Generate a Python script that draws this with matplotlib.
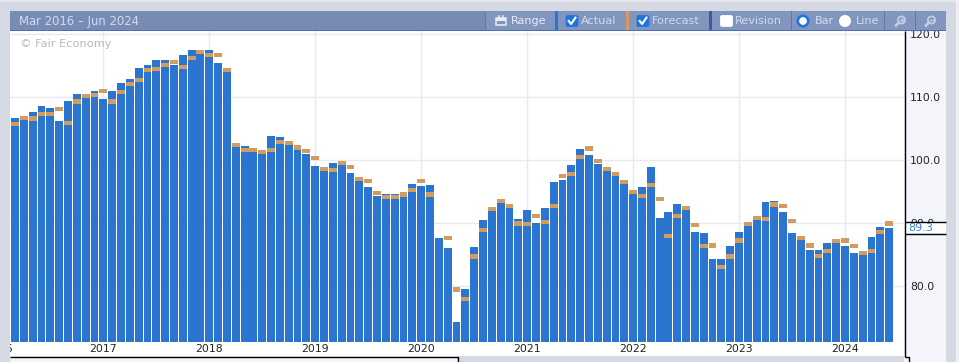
import matplotlib
matplotlib.use("Agg")
import matplotlib.pyplot as plt
import numpy as np
from matplotlib.patches import Circle, FancyBboxPatch, Rectangle

# Mar 2016 - Jun 2024, monthly
actual = [
    106.7, 106.4, 107.7, 108.6, 108.3, 106.2, 109.4, 110.5, 109.9, 111.0,
    109.7, 111.0, 112.3, 112.9, 114.6, 115.1, 115.9, 115.9, 115.1, 116.7,
    117.5, 116.9, 117.5, 115.4, 114.0, 102.1, 102.3, 101.3, 101.0, 103.9,
    103.7, 102.4, 101.6, 101.0, 99.1, 98.3, 99.6, 99.3, 98.0, 96.7,
    95.8, 94.3, 94.6, 94.6, 94.3, 96.2, 95.9, 96.1, 87.7, 86.1,
    74.3, 79.6, 86.2, 90.5, 91.9, 93.2, 92.4, 90.7, 92.1, 90.0,
    92.4, 96.6, 96.9, 99.3, 101.8, 100.8, 99.4, 98.3, 97.5, 96.2,
    94.6, 95.8, 98.9, 90.8, 91.8, 93.1, 92.1, 88.6, 88.5, 84.3,
    84.3, 86.4, 88.6, 89.6, 90.5, 93.4, 93.5, 91.8, 88.5, 87.3,
    85.8, 85.8, 86.9, 86.9, 86.4, 85.3, 85.0, 87.8, 89.4, 89.3,
]
forecast = [
    105.8, 106.7, 106.6, 107.3, 107.3, 108.1, 105.9, 109.3, 110.2, 110.4,
    111.0, 109.3, 110.8, 112.1, 112.7, 114.3, 114.5, 115.1, 115.6, 114.8,
    116.2, 117.2, 116.7, 116.7, 114.3, 102.4, 101.6, 101.6, 101.3, 101.6,
    102.9, 102.7, 102.0, 101.5, 100.4, 98.6, 98.5, 99.6, 98.9, 97.0,
    96.7, 94.8, 94.2, 94.2, 94.6, 95.3, 96.7, 94.6, np.nan, 87.7,
    79.5, 78.0, 84.7, 88.9, 92.3, 93.5, 92.7, 90.0, 89.9, 91.2,
    90.2, 92.7, 97.5, 97.8, 100.5, 101.9, 99.9, 98.6, 97.8, 96.6,
    95.0, 94.3, 96.1, 93.9, 88.0, 91.2, 92.4, 89.7, 86.4, 86.5,
    83.1, 84.7, 87.3, 89.9, 90.8, 90.7, 93.0, 92.7, 90.4, 87.7,
    86.5, 84.8, 85.6, 87.2, 87.3, 86.4, 85.3, 85.6, 88.6, 90.0,
]
year_index = [-1.85, 10, 22, 34, 46, 58, 70, 82, 94]
year_labels = ["2016", "2017", "2018", "2019", "2020", "2021", "2022", "2023", "2024"]
y_ticks = [80, 90, 100, 110, 120]

W, H = 959, 362
BAR = "#2975cf"
ORANGE = "#d39c5e"
GRID = "#e8e9f2"
PAGE = "#d5d9e3"
PANEL = "#f3f5fa"
HEADER = "#778bb6"
BUTTON = "#8295bf"
TEXT = "#d3dbea"

plt.rcParams["font.family"] = "DejaVu Sans"
fig = plt.figure(figsize=(W / 100, H / 100), dpi=100, facecolor=PAGE)

# chart area in pixels
left, right, top, bottom = 10, 904, 31, 342
ax = fig.add_axes([left / W, 1 - bottom / H, (right - left) / W, (bottom - top) / H], zorder=1)
ymin, ymax = 71.16, 120.52
ax.set_xlim(-0.566, 100.68)
ax.set_ylim(ymin, ymax)

x = np.arange(len(actual))
actual_arr = np.array(actual)
forecast_arr = np.array(forecast)
has_f = ~np.isnan(forecast_arr)
ax.bar(x, actual_arr - ymin, bottom=ymin, width=0.89, color=BAR, linewidth=0, zorder=2)
ax.bar(x[has_f], 0.7, bottom=forecast_arr[has_f] - 0.35, width=0.89, color=ORANGE, linewidth=0, zorder=3)

ax.set_xticks(year_index[1:], year_labels[1:])
ax.set_yticks(y_ticks, [f"{v:.1f}" for v in y_ticks])
ax.yaxis.tick_right()
ax.tick_params(axis="x", length=0, pad=1.5, labelsize=7.8, labelcolor="#222222")
ax.tick_params(axis="y", length=0, pad=4.3, labelsize=7.8, labelcolor="#222222")
ax.grid(True, color=GRID, linewidth=1.0)
ax.set_axisbelow(True)
for s in ax.spines.values():
    s.set_visible(False)
ax.text(year_index[0], ymin - 1.1, year_labels[0], fontsize=7.8, color="#222222", ha="center", va="center",
        clip_on=False)

# page furniture, drawn in pixel coordinates
back = fig.add_axes([0, 0, 1, 1], zorder=0)
back.set_xlim(0, W)
back.set_ylim(H, 0)
back.axis("off")
back.add_patch(Rectangle((10, 31), 894, 325, color="white", lw=0))
back.add_patch(Rectangle((904, 31), 42, 331, color=PANEL, lw=0))
back.add_patch(Rectangle((10, 356), 447, 6, color=PANEL, lw=0))

over = fig.add_axes([0, 0, 1, 1], zorder=2)
over.set_xlim(0, W)
over.set_ylim(H, 0)
over.axis("off")
over.patch.set_alpha(0)

over.add_patch(Rectangle((0, 0), 10, H, color=PAGE, lw=0))
over.add_patch(Rectangle((0, 0), W, 1.5, color="#e6e8ee", lw=0))
over.add_patch(Rectangle((956, 0), 3, H, color="#eef0f5", lw=0))

# black frame of the chart
line_kw = dict(color="black", lw=1.0, solid_capstyle="butt")
over.plot([904.5, 904.5], [31, 356.5], **line_kw)
over.plot([904.5, 908.5, 908.5], [356.5, 356.5, 362], **line_kw)
over.plot([10, 457.5, 457.5], [356.5, 356.5, 362], **line_kw)

# header
over.add_patch(Rectangle((10, 11), 936, 19, color=HEADER, lw=0))
over.add_patch(Rectangle((485, 11), 461, 19, color=BUTTON, lw=0))
over.add_patch(Rectangle((10, 30), 936, 1.2, color="#4d6fb0", lw=0))
over.text(19, 21, "Mar 2016 – Jun 2024", color=TEXT, fontsize=8.4, va="center", ha="left")

for sx in [485, 791, 884, 915]:
    over.add_patch(Rectangle((sx, 11), 0.8, 19, color="#5f78a8", lw=0))
over.add_patch(Rectangle((554.5, 11), 3.2, 19, color=BAR, lw=0))
over.add_patch(Rectangle((626, 11), 3.2, 19, color=ORANGE, lw=0))
over.add_patch(Rectangle((708.5, 11), 3.2, 19, color="#3a5d9c", lw=0))

# Range button with its calendar icon
over.add_patch(Rectangle((496, 18), 9.5, 7, fill=False, ec="#e8ecf5", lw=1.1))
over.add_patch(Rectangle((496, 18), 9.5, 2.5, color="#e8ecf5", lw=0))
over.plot([498.5, 498.5], [15.5, 18], color="#e8ecf5", lw=1.1)
over.plot([503, 503], [15.5, 18], color="#e8ecf5", lw=1.1)
over.text(510.5, 21.3, "Range", color="#e8ecf5", fontsize=8.1, va="center", ha="left")


def checkbox(px, checked):
    face = "#1f74e0" if checked else "white"
    over.add_patch(FancyBboxPatch((px + 1, 16), 11, 10, boxstyle="round,pad=0.9,rounding_size=2",
                                  fc=face, ec="none"))
    if checked:
        over.plot([px + 3.2, px + 5.6, px + 10], [21, 24, 17.6], color="white", lw=1.5)


checkbox(565.5, True)
over.text(580.5, 21.3, "Actual", color=TEXT, fontsize=8.1, va="center", ha="left")
checkbox(636.5, True)
over.text(651.5, 21.3, "Forecast", color=TEXT, fontsize=8.1, va="center", ha="left")
checkbox(720, False)
over.text(734.5, 21.3, "Revision", color=TEXT, fontsize=8.1, va="center", ha="left")

# radios
over.add_patch(Circle((803, 21), 5.2, fc="white", ec="#1f74e0", lw=1.9))
over.text(815, 21.3, "Bar", color=TEXT, fontsize=8.1, va="center", ha="left")
over.add_patch(Circle((845, 21), 6, fc="white", ec="none"))
over.text(856, 21.3, "Line", color=TEXT, fontsize=8.1, va="center", ha="left")

# zoom icons
for cx, plus in [(901.5, True), (931.5, False)]:
    over.add_patch(Circle((cx, 20), 3.6, fill=False, ec="#c3cde2", lw=1.3))
    over.plot([cx - 2.8, cx - 5.5], [22.8, 25.5], color="#c3cde2", lw=2)
    over.plot([cx - 1.8, cx + 1.8], [20, 20], color="#c3cde2", lw=1)
    if plus:
        over.plot([cx, cx], [18.2, 21.8], color="#c3cde2", lw=1)

over.text(20, 44.3, "© Fair Economy", color="#b9b9b9", fontsize=8.2, va="center", ha="left")

# last value marker on the right axis
over.add_patch(Rectangle((905, 222), 41, 11, color="white", lw=0))
over.plot([904.5, 946], [222, 222], **line_kw)
over.plot([904.5, 946], [233.5, 233.5], **line_kw)
over.text(908.5, 228.3, f"{actual[-1]:.1f}", color="#3b82d6", fontsize=8.0, va="center", ha="left")

fig.savefig("out.png", dpi=100, facecolor=fig.get_facecolor())
